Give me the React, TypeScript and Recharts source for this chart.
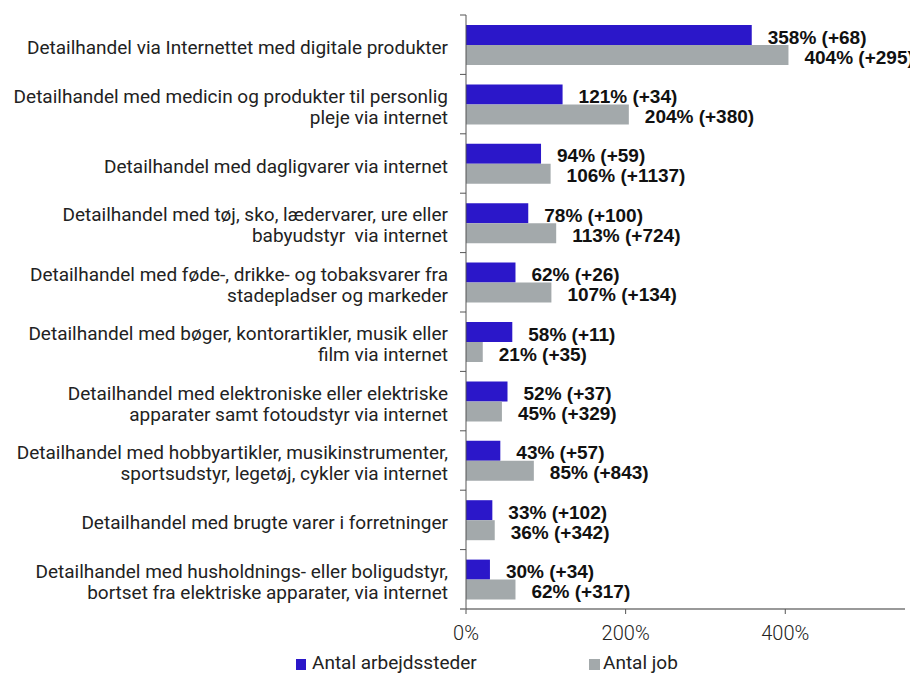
import React from "react";
import { BarChart, Bar, XAxis, YAxis, LabelList, Legend } from "recharts";

const categories = [
  "Detailhandel via Internettet med digitale produkter",
  "Detailhandel med medicin og produkter til personlig\npleje via internet",
  "Detailhandel med dagligvarer via internet",
  "Detailhandel med tøj, sko, lædervarer, ure eller\nbabyudstyr  via internet",
  "Detailhandel med føde-, drikke- og tobaksvarer fra\nstadepladser og markeder",
  "Detailhandel med bøger, kontorartikler, musik eller\nfilm via internet",
  "Detailhandel med elektroniske eller elektriske\napparater samt fotoudstyr via internet",
  "Detailhandel med hobbyartikler, musikinstrumenter,\nsportsudstyr, legetøj, cykler via internet",
  "Detailhandel med brugte varer i forretninger",
  "Detailhandel med husholdnings- eller boligudstyr,\nbortset fra elektriske apparater, via internet",
];

const arbejdsstederPct = [358, 121, 94, 78, 62, 58, 52, 43, 33, 30];
const arbejdsstederAbs = [68, 34, 59, 100, 26, 11, 37, 57, 102, 34];
const jobPct = [404, 204, 106, 113, 107, 21, 45, 85, 36, 62];
const jobAbs = [295, 380, 1137, 724, 134, 35, 329, 843, 342, 317];

const xTicks = [0, 200, 400];
const seriesNames = ["Antal arbejdssteder", "Antal job"];

const BLUE = "#2b17c9";
const GRAY = "#a3a9ab";

const data = categories.map((c, i) => ({
  category: c,
  arb: arbejdsstederPct[i],
  arbLabel: `${arbejdsstederPct[i]}% (+${arbejdsstederAbs[i]})`,
  job: jobPct[i],
  jobLabel: `${jobPct[i]}% (+${jobAbs[i]})`,
}));

const CatTick = (props: any) => {
  const { x, y, payload, index } = props;
  const off = payload && typeof payload.offset === "number" && payload.offset > 0 ? payload.offset : 29.7;
  const lines = String(payload.value).split("\n");
  const lh = 21;
  const startY = y - ((lines.length - 1) * lh) / 2 + 2;
  return (
    <g>
      <line x1={x} x2={x - 6} y1={y - off} y2={y - off} stroke="#555" strokeWidth={1} />
      {index === categories.length - 1 && (
        <line x1={x} x2={x - 6} y1={y + off} y2={y + off} stroke="#777" strokeWidth={1.5} />
      )}
      <text
        x={x - 18}
        y={startY}
        textAnchor="end"
        dominantBaseline="central"
        fontFamily="Roboto, 'Noto Sans', sans-serif"
        fontSize={19}
        fill="#222"
      >
        {lines.map((l, i) => (
          <tspan key={i} x={x - 18} y={startY + i * lh} style={{ whiteSpace: "pre" }}>
            {l}
          </tspan>
        ))}
      </text>
    </g>
  );
};

const makeValueLabel = (key: "arbLabel" | "jobLabel") => (props: any) => {
  const { x, y, width, height, index } = props;
  const txt = data[index][key];
  return (
    <text
      x={x + width + 16}
      y={y + height / 2 + 2}
      dominantBaseline="central"
      fontFamily="'Liberation Sans', Arial, sans-serif"
      fontWeight="bold"
      fontSize={19}
      fill="#111"
    >
      {txt}
    </text>
  );
};

const LegendContent = () => (
  <div style={{ position: "relative", height: 24, width: 910, fontFamily: "Roboto, 'Noto Sans', sans-serif", fontSize: 19, color: "#222" }}>
    <span style={{ position: "absolute", left: 288, top: 5, width: 10, height: 11, background: BLUE }} />
    <span style={{ position: "absolute", left: 304, top: -2, lineHeight: "22px", whiteSpace: "nowrap" }}>{seriesNames[0]}</span>
    <span style={{ position: "absolute", left: 581, top: 5, width: 11, height: 11, background: GRAY }} />
    <span style={{ position: "absolute", left: 595, top: -2, lineHeight: "22px", whiteSpace: "nowrap" }}>{seriesNames[1]}</span>
  </div>
);

export default function App() {
  return (
    <BarChart
      width={910}
      height={665}
      data={data}
      layout="vertical"
      margin={{ top: 7, right: 13, bottom: 10, left: 0 }}
      barGap={0}
      barSize={20}
    >
      <XAxis
        type="number"
        domain={[0, 550]}
        ticks={xTicks}
        tickFormatter={(v: number) => `${v}%`}
        axisLine={{ stroke: "#777", strokeWidth: 1.5 }}
        tickLine={{ stroke: "#555" }}
        tickSize={5}
        tickMargin={12}
        height={30}
        tick={{ fontFamily: "Roboto, 'Noto Sans', sans-serif", fontSize: 20, fontWeight: 300, fill: "#222" }}
      />
      <YAxis
        type="category"
        dataKey="category"
        width={458}
        axisLine={{ stroke: "#555", strokeWidth: 1 }}
        tickLine={false}
        tickSize={0}
        tickMargin={0}
        interval={0}
        tick={<CatTick />}
      />
      <Legend
        verticalAlign="bottom"
        content={<LegendContent />}
        wrapperStyle={{ top: 646, left: 0, width: 910, height: 24 }}
      />
      <Bar dataKey="arb" name={seriesNames[0]} fill={BLUE} isAnimationActive={false}>
        <LabelList dataKey="arbLabel" content={makeValueLabel("arbLabel")} />
      </Bar>
      <Bar dataKey="job" name={seriesNames[1]} fill={GRAY} isAnimationActive={false}>
        <LabelList dataKey="jobLabel" content={makeValueLabel("jobLabel")} />
      </Bar>
    </BarChart>
  );
}
